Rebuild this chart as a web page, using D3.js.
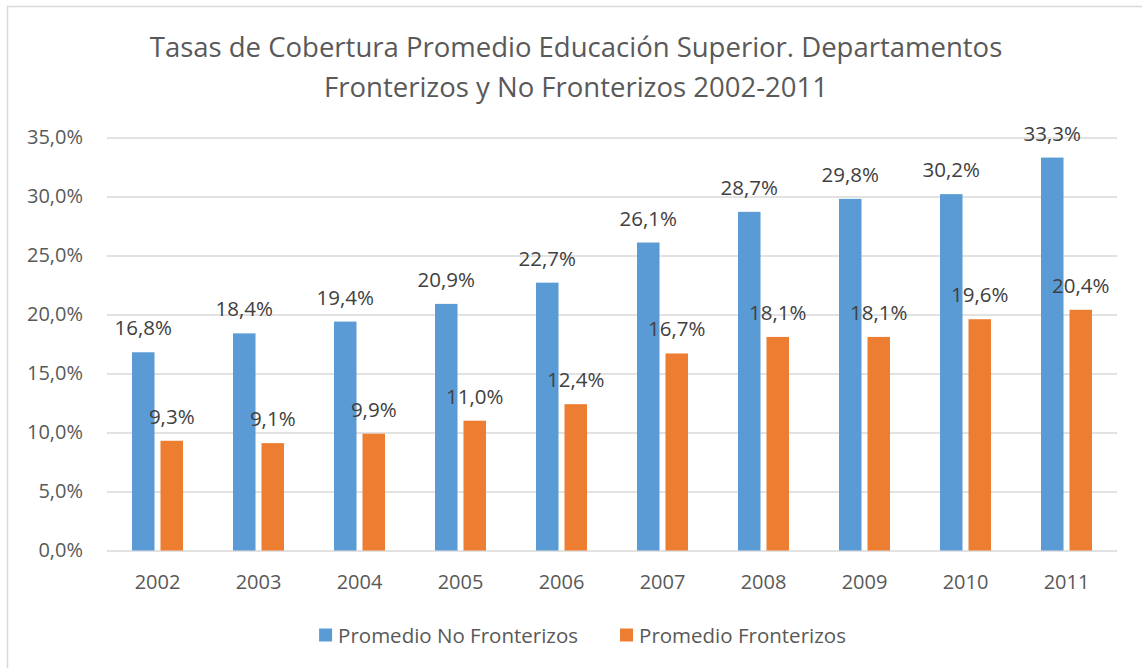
<!DOCTYPE html>
<meta charset="utf-8">
<style>
	body {
		margin: 0;
		background: #fff;
	}
	svg text {
		font-family: "Open Sans", sans-serif;
	}
	.title {
		font-size: 27.5px;
		fill: #595959;
		text-anchor: middle;
	}
	.axis text {
		font-size: 20px;
		fill: #595959;
	}
	.label {
		font-size: 20.5px;
		fill: #404040;
		text-anchor: middle;
	}
	.legend text {
		font-size: 20.5px;
		fill: #595959;
	}
</style>
<body>
<script src="https://d3js.org/d3.v7.min.js"></script>
<script>

	var years = ["2002", "2003", "2004", "2005", "2006", "2007", "2008", "2009", "2010", "2011"];
	var noFronterizos = [16.8, 18.4, 19.4, 20.9, 22.7, 26.1, 28.7, 29.8, 30.2, 33.3];
	var fronterizos = [9.3, 9.1, 9.9, 11.0, 12.4, 16.7, 18.1, 18.1, 19.6, 20.4];
	var seriesNames = ["Promedio No Fronterizos", "Promedio Fronterizos"];
	var yTicks = [0, 5, 10, 15, 20, 25, 30, 35];
	var titleLines = ["Tasas de Cobertura Promedio Educación Superior. Departamentos",
		"Fronterizos y No Fronterizos 2002-2011"];

	var width = 1142,
		height = 668;

	var margin = {top: 137.5, right: 25, bottom: 117.5, left: 107};
	var plotW = width - margin.left - margin.right,
		plotH = height - margin.top - margin.bottom;

	var color = d3.scaleOrdinal()
		.domain(seriesNames)
		.range(['#5B9BD5', '#ED7D31']);

	var fmt = function(v) { return d3.format(".1f")(v).replace(".", ",") + "%"; };

	var svg = d3.select("body").append("svg")
		.attr("width", width)
		.attr("height", height);

	// chart frame (only top and left are visible in the picture)
	svg.append("rect")
		.attr("x", 7.5)
		.attr("y", 6.5)
		.attr("width", width + 20)
		.attr("height", height + 20)
		.attr("fill", "none")
		.attr("stroke", "#D9D9D9")
		.attr("stroke-width", 1.5);

	svg.selectAll(".title")
		.data(titleLines)
		.enter().append("text")
		.attr("class", "title")
		.attr("x", 576)
		.attr("y", function(d, i) { return 57 + i * 40; })
		.text(function(d) { return d; });

	var g = svg.append("g")
		.attr("transform", "translate(" + margin.left + "," + margin.top + ")");

	var x0 = d3.scaleBand()
		.domain(years)
		.range([0, plotW])
		.paddingInner(0.495)
		.paddingOuter(0.2475);

	var x1 = d3.scaleBand()
		.domain(seriesNames)
		.range([0, x0.bandwidth()])
		.paddingInner(0.21);

	var y = d3.scaleLinear()
		.domain([0, 35])
		.range([plotH, 0]);

	// gridlines
	g.selectAll(".grid")
		.data(yTicks)
		.enter().append("line")
		.attr("class", "grid")
		.attr("x1", 0)
		.attr("x2", plotW)
		.attr("y1", function(d) { return Math.round(y(d)) + 0.5; })
		.attr("y2", function(d) { return Math.round(y(d)) + 0.5; })
		.attr("stroke", "#D9D9D9")
		.attr("stroke-width", 1.3);

	var yAxis = g.append("g")
		.attr("class", "axis")
		.call(d3.axisLeft(y).tickValues(yTicks).tickSize(0).tickPadding(24)
			.tickFormat(function(d) { return d3.format(".1f")(d).replace(".", ",") + "%"; }));
	yAxis.select(".domain").remove();

	var xAxis = g.append("g")
		.attr("class", "axis")
		.attr("transform", "translate(0," + plotH + ")")
		.call(d3.axisBottom(x0).tickSize(0).tickPadding(24));
	xAxis.select(".domain").remove();

	var rows = years.map(function(yr, i) {
		return {year: yr, values: [
			{key: seriesNames[0], value: noFronterizos[i]},
			{key: seriesNames[1], value: fronterizos[i]}
		]};
	});

	var groups = g.selectAll(".group")
		.data(rows)
		.enter().append("g")
		.attr("class", "group")
		.attr("transform", function(d) { return "translate(" + x0(d.year) + ",0)"; });

	groups.selectAll("rect")
		.data(function(d) { return d.values; })
		.enter().append("rect")
		.attr("x", function(d) { return x1(d.key); })
		.attr("y", function(d) { return y(d.value); })
		.attr("width", x1.bandwidth())
		.attr("height", function(d) { return plotH - y(d.value); })
		.style("fill", function(d) { return color(d.key); });

	groups.selectAll(".label")
		.data(function(d) { return d.values; })
		.enter().append("text")
		.attr("class", "label")
		.attr("x", function(d) { return x1(d.key) + x1.bandwidth() / 2; })
		.attr("y", function(d) { return y(d.value) - 17; })
		.text(function(d) { return fmt(d.value); });

	// legend
	var legendRectSize = 13;
	var legend = svg.append("g")
		.attr("class", "legend");

	var items = legend.selectAll("g")
		.data(seriesNames)
		.enter().append("g");

	items.append("rect")
		.attr("width", legendRectSize)
		.attr("height", legendRectSize)
		.attr("y", -legendRectSize / 2)
		.style("fill", color);

	items.append("text")
		.attr("x", legendRectSize + 6)
		.attr("y", 7.5)
		.text(function(d) { return d; });

	var offset = 0;
	items.each(function() {
		var w = legendRectSize + 6 + this.querySelector("text").getComputedTextLength();
		d3.select(this).attr("transform", "translate(" + offset + ",0)");
		offset += w + 42;
	});
	var total = offset - 42;
	legend.attr("transform", "translate(" + (582.5 - total / 2) + ",635)");
</script>
